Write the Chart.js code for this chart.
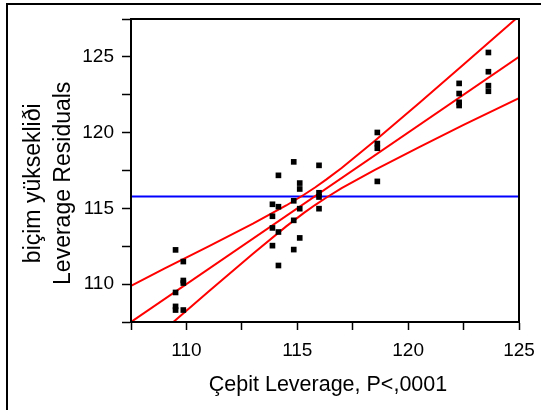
<!DOCTYPE html>
<html><head><meta charset="utf-8">
<script src="https://cdn.jsdelivr.net/npm/chart.js@4.4.0/dist/chart.umd.min.js"></script>
<style>
html,body{margin:0;padding:0;background:#fff;overflow:hidden;}
#wrap{position:relative;width:541px;height:410px;overflow:hidden;}
#frame{position:absolute;left:6px;top:3px;width:700px;height:600px;border-left:2px solid #000;border-top:2px solid #000;}
canvas{position:absolute;left:0;top:0;}
</style></head><body>
<div id="wrap"><div id="frame"></div><canvas id="c" width="541" height="410"></canvas></div>
<script>
// Leverage x values (4 replicates per variety) and leverage residuals
const leverageX = [
  109.51,109.51,109.51,109.51,
  109.86,109.86,109.86,109.86,
  113.88,113.88,113.88,113.88,
  114.15,114.15,114.15,114.15,
  114.84,114.84,114.84,114.84,
  115.11,115.11,115.11,115.11,
  115.98,115.98,115.98,115.98,
  118.61,118.61,118.61,118.61,
  122.30,122.30,122.30,122.30,
  123.62,123.62,123.62,123.62
];
const leverageY = [
  112.26,109.45,108.53,108.29,
  111.49,110.24,110.07,108.29,
  115.27,114.48,113.71,112.54,
  117.18,115.11,113.44,111.23,
  118.07,115.50,114.21,112.28,
  116.67,116.28,114.98,113.05,
  117.84,116.03,115.75,114.98,
  120.01,119.28,118.97,116.78,
  123.25,122.58,122.00,121.79,
  125.29,124.02,123.10,122.73
];
const meanY = 115.79;
const fitX = [107.5, 125];
const fitY = [107.5, 125];
const curveX = [107.5,109,111,113,114.5,115.3,115.8,116.3,117,118.5,120.5,122.5,125];
const upperY = [109.88,111.02,112.49,113.99,115.19,115.90,116.38,116.90,117.67,119.46,121.96,124.50,127.69];
const lowerY = [105.07,106.98,109.51,112.01,113.81,114.70,115.22,115.70,116.33,117.54,119.04,120.51,122.28];
const xTicks = [110,115,120,125];
const yTicks = [110,115,120,125];
const xTitle = '\u00a0Çeþit Leverage, P<,0001';
const yTitle = ['biçim yüksekliði\u00a0\u00a0\u00a0\u00a0','Leverage Residuals\u00a0\u00a0\u00a0\u00a0'];

const pts = (xs, ys) => xs.map((x,i)=>({x, y: ys[i]}));
const FONT = "'Liberation Sans', Arial, sans-serif";

const frameBox = {
  id: 'frameBox',
  afterDraw(chart){
    const {ctx, chartArea:a} = chart;
    ctx.save();
    ctx.strokeStyle = '#000';
    ctx.lineWidth = 2;
    ctx.strokeRect(a.left, a.top, a.right - a.left, a.bottom - a.top);
    ctx.restore();
  }
};

new Chart(document.getElementById('c'), {
  type: 'scatter',
  data: {
    datasets: [
      { label: 'points', data: pts(leverageX, leverageY), pointStyle: 'rect', pointRadius: 4,
        pointBackgroundColor: '#000', pointBorderWidth: 0, showLine: false },
      { label: 'upper', data: pts(curveX, upperY), showLine: true, borderColor: '#ff0000', borderWidth: 2,
        pointRadius: 0, tension: 0, clip: 0 },
      { label: 'lower', data: pts(curveX, lowerY), showLine: true, borderColor: '#ff0000', borderWidth: 2,
        pointRadius: 0, tension: 0, clip: 0 },
      { label: 'fit', data: pts(fitX, fitY), showLine: true, borderColor: '#ff0000', borderWidth: 2,
        pointRadius: 0, clip: 0 },
      { label: 'mean', data: pts(fitX, [meanY, meanY]), showLine: true, borderColor: '#0000ff', borderWidth: 2,
        pointRadius: 0, clip: 0 }
    ]
  },
  options: {
    responsive: false,
    animation: false,
    events: [],
    layout: { padding: { left: 0, top: 19, right: 22, bottom: 0 } },
    plugins: { legend: { display: false }, tooltip: { enabled: false } },
    scales: {
      x: {
        type: 'linear', min: 107.5, max: 125,
        afterFit(s){ s.height = 88; s.paddingLeft = 0; s.paddingRight = 0; },
        ticks: { stepSize: 2.5, autoSkip: false, maxRotation: 0, color: '#000', padding: 9,
          font: { family: FONT, size: 19 },
          callback: v => xTicks.includes(v) ? String(v) : '' },
        grid: { drawOnChartArea: false, drawTicks: true, tickLength: 8, tickColor: '#000', tickWidth: 1.5 },
        border: { display: true, color: '#000', width: 2 },
        title: { display: true, text: xTitle, color: '#000', font: { family: FONT, size: 21.5 },
          padding: { top: 0, bottom: 12 } }
      },
      y: {
        type: 'linear', min: 107.5, max: 127.5,
        afterFit(s){ s.width = 131; s.paddingTop = 0; s.paddingBottom = 0; },
        ticks: { stepSize: 2.5, autoSkip: false, color: '#000', padding: 8,
          font: { family: FONT, size: 19 },
          callback: v => yTicks.includes(v) ? String(v) : '' },
        grid: { drawOnChartArea: false, drawTicks: true, tickLength: 9, tickColor: '#000', tickWidth: 1.5 },
        border: { display: true, color: '#000', width: 2 },
        title: { display: true, text: yTitle, color: '#000',
          font: { family: FONT, size: 23, lineHeight: '30px' },
          padding: { top: 19, bottom: 0 } }
      }
    }
  },
  plugins: [frameBox]
});
</script>
</body></html>
